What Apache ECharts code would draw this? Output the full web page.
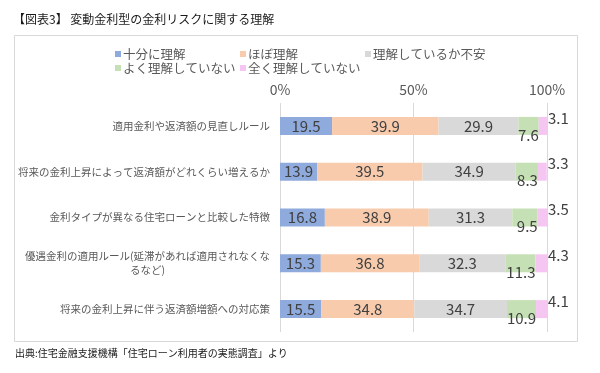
<!DOCTYPE html>
<html>
<head>
<meta charset="utf-8">
<script src="https://cdn.jsdelivr.net/npm/echarts@6/dist/echarts.min.js"></script>
<style>
html,body{margin:0;padding:0;background:#fff;}
#main{width:600px;height:373px;}
</style>
</head>
<body>
<div id="main"></div>
<script>
const titleText = '【図表3】 変動金利型の金利リスクに関する理解';
const sourceText = '出典:住宅金融支援機構「住宅ローン利用者の実態調査」より';
const categories = [
  '適用金利や返済額の見直しルール',
  '将来の金利上昇によって返済額がどれくらい増えるか',
  '金利タイプが異なる住宅ローンと比較した特徴',
  '優遇金利の適用ルール(延滞があれば適用されなくな\nるなど)',
  '将来の金利上昇に伴う返済額増額への対応策'
];
const seriesNames = ['十分に理解', 'ほぼ理解', '理解しているか不安', 'よく理解していない', '全く理解していない'];
const fullyUnderstand = [19.5, 13.9, 16.8, 15.3, 15.5];
const mostlyUnderstand = [39.9, 39.5, 38.9, 36.8, 34.8];
const unsure = [29.9, 34.9, 31.3, 32.3, 34.7];
const notWell = [7.6, 8.3, 9.5, 11.3, 10.9];
const notAtAll = [3.1, 3.3, 3.5, 4.3, 4.1];
const axisTicks = [0, 50, 100];

const colors = ['#8FAADC', '#F8CBAD', '#D9D9D9', '#C5E0B4', '#F6C6F2'];
const FONT = '"Noto Sans CJK JP", "Noto Sans", sans-serif';
const values = [fullyUnderstand, mostlyUnderstand, unsure, notWell, notAtAll];

const labelBase = {color: '#404040', fontSize: 15, fontFamily: FONT};
const labelCfg = [
  Object.assign({show: true, position: 'inside'}, labelBase),
  Object.assign({show: true, position: 'inside'}, labelBase),
  Object.assign({show: true, position: 'inside'}, labelBase),
  Object.assign({show: true, position: 'insideRight', distance: 0, offset: [0, 9]}, labelBase),
  Object.assign({show: true, position: 'right', distance: 1, offset: [0, -8]}, labelBase)
];

const chart = echarts.init(document.getElementById('main'), null, {renderer: 'canvas'});
chart.setOption({
  backgroundColor: '#fff',
  animation: false,
  color: colors,
  textStyle: {fontFamily: FONT},
  graphic: [
    {type: 'rect', shape: {x: 14.5, y: 35.5, width: 563, height: 306}, style: {fill: 'none', stroke: '#D9D9D9', lineWidth: 1}, z: -1},
    {type: 'text', left: 13, top: 13, style: {text: titleText, fontSize: 12, fill: '#1a1a1a', fontFamily: FONT}},
    {type: 'text', left: 15, top: 348, style: {text: sourceText, fontSize: 10, fill: '#1a1a1a', fontFamily: FONT}}
  ],
  legend: {
    left: 110, top: 42, width: 400,
    itemWidth: 6, itemHeight: 6, itemGap: 0,
    icon: 'rect',
    data: seriesNames,
    textStyle: {fontSize: 12.5, color: '#595959', width: 117, lineHeight: 14, fontFamily: FONT, padding: [0, 0, 0, -3]}
  },
  grid: {left: 280, right: 53, top: 103, bottom: 41, containLabel: false},
  xAxis: {
    type: 'value', position: 'top', min: axisTicks[0], max: axisTicks[axisTicks.length - 1], interval: axisTicks[1] - axisTicks[0],
    axisLine: {show: false}, axisTick: {show: false},
    axisLabel: {formatter: '{value}%', fontSize: 14, color: '#595959', margin: 6, fontFamily: FONT},
    splitLine: {lineStyle: {color: '#D9D9D9', width: 1}}
  },
  yAxis: {
    type: 'category', inverse: true, data: categories,
    axisLine: {show: false}, axisTick: {show: false},
    axisLabel: {
      margin: 10, fontSize: 10.5, color: '#595959', fontFamily: FONT,
      formatter: function (v) {
        if (v.indexOf('\n') < 0) return v;
        return v.split('\n').map(function (s) { return '{c|' + s + '}'; }).join('\n');
      },
      rich: {c: {align: 'center', fontSize: 10.5, color: '#595959', fontFamily: FONT, lineHeight: 14}}
    }
  },
  series: seriesNames.map(function (name, i) {
    return {
      name: name, type: 'bar', stack: 'total', barWidth: 18,
      data: values[i], label: labelCfg[i],
      itemStyle: {color: colors[i]}
    };
  })
});
</script>
</body>
</html>
